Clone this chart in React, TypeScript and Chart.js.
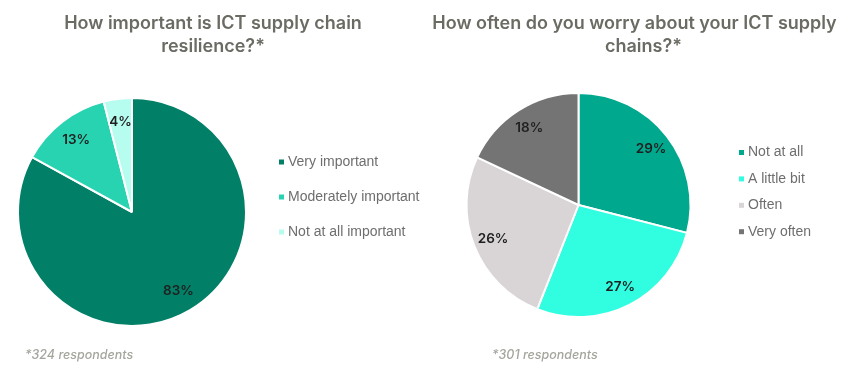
import { useEffect, useRef } from 'react';
import { Chart, registerables } from 'chart.js';

Chart.register(...registerables);

// ---- Data ----
const importanceTitle = ['How important is ICT supply chain', 'resilience?*'];
const importanceLabels = ['Very important', 'Moderately important', 'Not at all important'];
const importanceValues = [83, 13, 4];
const importanceColors = ['#027f67', '#27d3b0', '#b6fcef'];
const importanceNote = '*324 respondents';

const worryTitle = ['How often do you worry about your ICT supply', 'chains?*'];
const worryLabels = ['Not at all', 'A little bit', 'Often', 'Very often'];
const worryValues = [29, 27, 26, 18];
const worryColors = ['#00a88d', '#31fde0', '#d9d5d6', '#747474'];
const worryNote = '*301 respondents';

const TITLE_COLOR = '#6b6b64';
const LEGEND_COLOR = '#6e6e6e';
const NOTE_COLOR = '#a5a59e';
const LABEL_COLOR = '#1f1f1f';

const decorPlugin = {
  id: 'decor',
  afterDatasetsDraw(chart: any, _args: any, opts: any) {
    const ctx = chart.ctx as CanvasRenderingContext2D;
    const meta = chart.getDatasetMeta(0);
    const data = chart.data.datasets[0].data as number[];
    ctx.save();
    ctx.font = '600 13.5px Inter';
    ctx.fillStyle = LABEL_COLOR;
    ctx.textAlign = 'center';
    ctx.textBaseline = 'middle';
    meta.data.forEach((arc: any, i: number) => {
      const p = arc.getProps(['startAngle', 'endAngle', 'outerRadius', 'x', 'y'], true);
      const mid = (p.startAngle + p.endAngle) / 2;
      const r = p.outerRadius * opts.labelRadius;
      ctx.fillText(`${data[i]}%`, p.x + Math.cos(mid) * r, p.y + Math.sin(mid) * r);
    });
    ctx.restore();
  },
  afterDraw(chart: any, _args: any, opts: any) {
    const ctx = chart.ctx as CanvasRenderingContext2D;
    ctx.save();
    // Heading
    ctx.font = '600 18px Inter';
    ctx.fillStyle = TITLE_COLOR;
    ctx.textAlign = 'center';
    ctx.textBaseline = 'alphabetic';
    (opts.title as string[]).forEach((line, i) => {
      ctx.fillText(line, opts.titleX[i], opts.titleBaseline + i * opts.titleLineHeight);
    });
    // Legend
    const labels = chart.data.labels as string[];
    const colors = chart.data.datasets[0].backgroundColor as string[];
    ctx.font = '14px "Liberation Sans", Arial, sans-serif';
    ctx.textAlign = 'left';
    ctx.textBaseline = 'middle';
    labels.forEach((lab, i) => {
      const y = opts.legendY + i * opts.legendStep;
      ctx.fillStyle = colors[i];
      ctx.fillRect(opts.legendX, y - 2.5, 5, 5);
      ctx.fillStyle = LEGEND_COLOR;
      ctx.fillText(lab, opts.legendX + 9, y);
    });
    // Footnote
    ctx.font = 'italic 500 12.5px Inter';
    ctx.fillStyle = NOTE_COLOR;
    ctx.textBaseline = 'middle';
    ctx.fillText(opts.note, opts.noteX, opts.noteY);
    ctx.restore();
  },
};

type PieProps = {
  left: number;
  width: number;
  labels: string[];
  values: number[];
  colors: string[];
  radius: number;
  padding: { left: number; right: number; top: number; bottom: number };
  decor: any;
};

function PieCanvas({ left, width, labels, values, colors, radius, padding, decor }: PieProps) {
  const ref = useRef<HTMLCanvasElement>(null);
  useEffect(() => {
    const chart = new Chart(ref.current as HTMLCanvasElement, {
      type: 'pie',
      data: {
        labels,
        datasets: [
          {
            data: values,
            backgroundColor: colors,
            borderColor: '#ffffff',
            borderWidth: 2,
            hoverOffset: 0,
            radius,
          } as any,
        ],
      },
      options: {
        responsive: false,
        animation: false,
        devicePixelRatio: 1,
        events: [],
        layout: { padding },
        plugins: {
          legend: { display: false },
          tooltip: { enabled: false },
          title: { display: false },
          decor,
        } as any,
      },
      plugins: [decorPlugin as any],
    });
    return () => chart.destroy();
  }, []);
  return (
    <canvas
      ref={ref}
      width={width}
      height={374}
      style={{ position: 'absolute', left, top: 0, width, height: 374 }}
    />
  );
}

export default function App() {
  return (
    <div style={{ position: 'fixed', left: 0, top: 0, width: 863, height: 374, background: '#ffffff', overflow: 'hidden' }}>
      <PieCanvas
        left={0}
        width={431}
        labels={importanceLabels}
        values={importanceValues}
        colors={importanceColors}
        radius={114}
        padding={{ left: 0, right: 167, top: 97, bottom: 47 }}
        decor={{
          title: importanceTitle,
          titleX: [213, 213],
          titleBaseline: 29,
          titleLineHeight: 23,
          legendX: 279,
          legendY: 162,
          legendStep: 35,
          note: importanceNote,
          noteX: 25,
          noteY: 355,
          labelRadius: 0.8,
        }}
      />
      <PieCanvas
        left={431}
        width={432}
        labels={worryLabels}
        values={worryValues}
        colors={worryColors}
        radius={112}
        padding={{ left: 0, right: 137, top: 92, bottom: 56 }}
        decor={{
          title: worryTitle,
          titleX: [203.5, 212.5],
          titleBaseline: 29,
          titleLineHeight: 23,
          legendX: 308,
          legendY: 152.5,
          legendStep: 26.4,
          note: worryNote,
          noteX: 61,
          noteY: 355,
          labelRadius: 0.82,
        }}
      />
    </div>
  );
}
